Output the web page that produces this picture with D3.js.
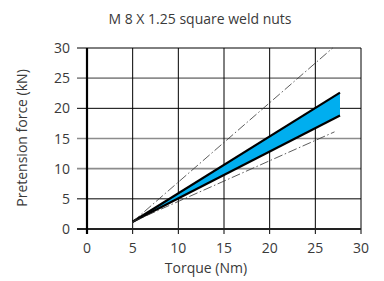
<!DOCTYPE html>
<html>
<head>
<meta charset="utf-8">
<script src="https://cdn.jsdelivr.net/npm/d3@7"></script>
<style>
  body { margin: 0; background: #fff; }
  text { font-family: "Open Sans", sans-serif; fill: #3a3a3a; }
</style>
</head>
<body>
<svg class="chart" width="384" height="281"></svg>
<script>
// data
var title = "M 8 X 1.25 square weld nuts",
    xTicks = [0, 5, 10, 15, 20, 25, 30],
    yTicks = [0, 5, 10, 15, 20, 25, 30],
    grayRows = [10, 15, 25];

// shaded band: upper / lower limits
var bandTorque = [5, 27.7],
    bandUpper = [1.2, 22.6],
    bandLower = [1.2, 18.8];

// dash-dot envelope lines
var envUpperTorque = [5, 26.9],
    envUpper = [1.2, 30],
    envLowerTorque = [5, 27.1],
    envLower = [1.2, 16.1];

var svg = d3.select(".chart"),
    margin = {top: 48, right: 23, bottom: 52, left: 87},
    width = +svg.attr("width") - margin.left - margin.right,
    height = +svg.attr("height") - margin.top - margin.bottom,
    g = svg.append("g").attr("transform", "translate(" + margin.left + "," + margin.top + ")");

var x = d3.scaleLinear().domain([0, 30]).range([0, width]),
    y = d3.scaleLinear().domain([0, 30]).range([height, 0]);

// horizontal grid (sticks out left of the axis)
g.selectAll(".hgrid")
    .data(yTicks.filter(function(d) { return d > 0; }))
    .enter().append("line")
    .attr("x1", -10).attr("x2", width)
    .attr("y1", function(d) { return y(d); })
    .attr("y2", function(d) { return y(d); })
    .attr("stroke", function(d) { return grayRows.indexOf(d) >= 0 ? "#8c8c8c" : "#000"; })
    .attr("stroke-width", function(d) { return grayRows.indexOf(d) >= 0 ? 1.6 : 1; });

// vertical grid (sticks out below the axis)
g.selectAll(".vgrid")
    .data(xTicks.filter(function(d) { return d > 0; }))
    .enter().append("line")
    .attr("x1", function(d) { return x(d); })
    .attr("x2", function(d) { return x(d); })
    .attr("y1", 0).attr("y2", height + 5)
    .attr("stroke", "#000").attr("stroke-width", 1);

// axes lines
g.append("line").attr("x1", -10).attr("x2", width).attr("y1", height).attr("y2", height)
    .attr("stroke", "#222").attr("stroke-width", 2.2);
g.append("line").attr("x1", 0).attr("x2", 0).attr("y1", 0).attr("y2", height + 5)
    .attr("stroke", "#000").attr("stroke-width", 2.2);

// tick labels
g.selectAll(".ylab")
    .data(yTicks)
    .enter().append("text")
    .attr("x", -17)
    .attr("y", function(d) { return y(d); })
    .attr("dy", "0.36em")
    .attr("text-anchor", "end")
    .style("font-size", "14px")
    .text(function(d) { return d; });

g.selectAll(".xlab")
    .data(xTicks)
    .enter().append("text")
    .attr("x", function(d) { return x(d); })
    .attr("y", height + 24)
    .attr("text-anchor", "middle")
    .style("font-size", "14px")
    .text(function(d) { return d; });

// band
var bandData = bandTorque.map(function(t, i) { return {t: t, lo: bandLower[i], hi: bandUpper[i]}; });
var area = d3.area()
    .x(function(d) { return x(d.t); })
    .y0(function(d) { return y(d.lo); })
    .y1(function(d) { return y(d.hi); });
g.append("path").datum(bandData).attr("d", area).attr("fill", "#00aeef");

var line = d3.line()
    .x(function(d) { return x(d[0]); })
    .y(function(d) { return y(d[1]); });

[bandUpper, bandLower].forEach(function(s) {
    g.append("path")
        .datum(d3.zip(bandTorque, s))
        .attr("d", line)
        .attr("fill", "none")
        .attr("stroke", "#000")
        .attr("stroke-width", 2.2);
});

[[envUpperTorque, envUpper], [envLowerTorque, envLower]].forEach(function(s) {
    g.append("path")
        .datum(d3.zip(s[0], s[1]))
        .attr("d", line)
        .attr("fill", "none")
        .attr("stroke", "#333")
        .attr("stroke-width", 0.8)
        .attr("stroke-dasharray", "9,2.5,1.5,2.5");
});

// titles
svg.append("text")
    .attr("x", 200).attr("y", 24)
    .attr("text-anchor", "middle")
    .style("font-size", "14px")
    .text(title);

svg.append("text")
    .attr("x", 206).attr("y", 273)
    .attr("text-anchor", "middle")
    .style("font-size", "14px")
    .text("Torque (Nm)");

svg.append("text")
    .attr("transform", "translate(27,138) rotate(-90)")
    .attr("text-anchor", "middle")
    .style("font-size", "14px")
    .text("Pretension force (kN)");
</script>
</body>
</html>
